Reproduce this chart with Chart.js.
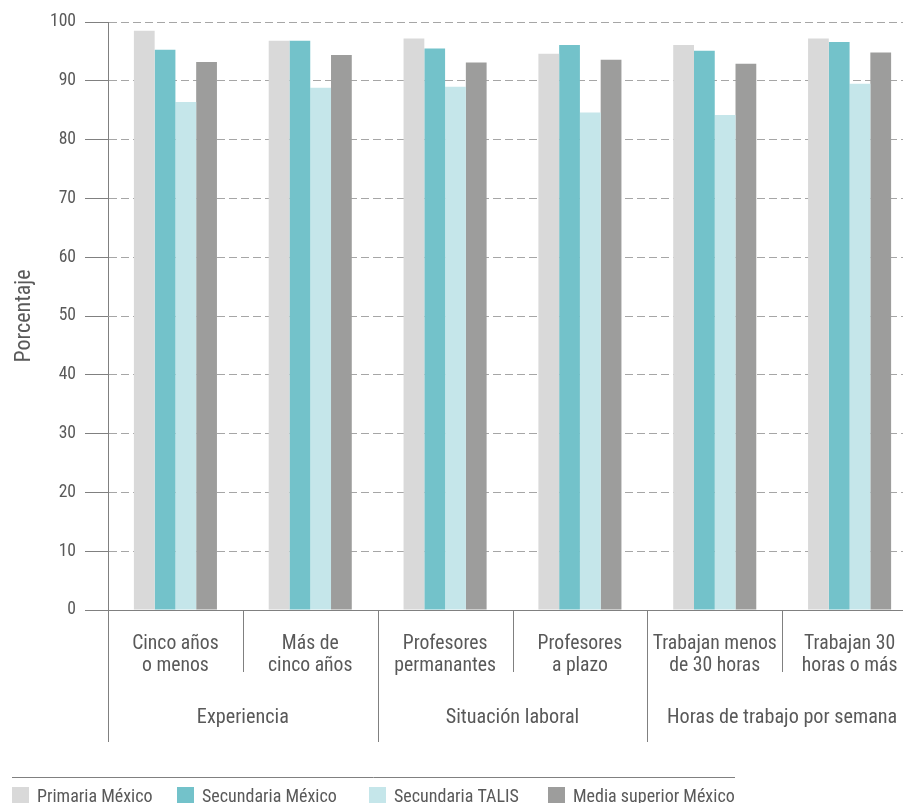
<!DOCTYPE html>
<html>
<head>
<meta charset="utf-8">
<script src="https://cdn.jsdelivr.net/npm/chart.js@4.4.1/dist/chart.umd.min.js"></script>
<style>
  html, body { margin: 0; padding: 0; background: #fff; overflow: hidden; }
  #wrap { position: absolute; left: 0; top: 0; width: 917px; height: 803px; }
</style>
</head>
<body>
<div id="wrap"><canvas id="teachers"></canvas></div>
<script>
// categories and groups
var categories = [
  ['Cinco años', 'o menos'],
  ['Más de', 'cinco años'],
  ['Profesores', 'permanantes'],
  ['Profesores', 'a plazo'],
  ['Trabajan menos', 'de 30 horas'],
  ['Trabajan 30', 'horas o más']
]
var groups = ['Experiencia', 'Situación laboral', 'Horas de trabajo por semana']
var groupSizes = [2, 2, 2]

// series (percent)
var primariaMexico = [98.5, 96.8, 97.2, 94.6, 96.1, 97.2]
var secundariaMexico = [95.3, 96.8, 95.5, 96.1, 95.1, 96.6]
var secundariaTalis = [86.4, 88.8, 89.0, 84.6, 84.2, 89.5]
var mediaSuperior = [93.2, 94.4, 93.1, 93.6, 92.9, 94.8]

var yTicks = [0, 10, 20, 30, 40, 50, 60, 70, 80, 90, 100]

var TEXT = '#595959'
var LINE = '#808080'
var legendX = [12, 177, 369, 548]

// pick a narrow face if one is installed, size it to the reference text widths
var probe = document.createElement('canvas').getContext('2d')
function hasFont(name) {
  var s = 'mmmmmmmmmmlli WwÁñ 0123'
  var r = false
  ;['monospace', 'serif'].forEach(function (fb) {
    probe.font = '40px ' + fb
    var a = probe.measureText(s).width
    probe.font = "40px '" + name + "', " + fb
    if (probe.measureText(s).width !== a) r = true
  })
  return r
}
var candidates = ['Liberation Sans Narrow', 'Arial Narrow', 'Roboto Condensed', 'Noto Sans Condensed',
  'Noto Sans SemiCondensed', 'DejaVu Sans Condensed', 'Liberation Sans']
var family = 'Liberation Sans'
for (var c = 0; c < candidates.length; c++) {
  if (hasFont(candidates[c])) { family = candidates[c]; break }
}
var FONT = "'" + family + "', Arial, sans-serif"
function fitSize(text, px) {
  probe.font = '100px ' + FONT
  return Math.round(100 * px / probe.measureText(text).width * 10) / 10
}
var catSize = fitSize('Trabajan menos', 124)
var groupSize = fitSize('Experiencia', 92)
var tickSize = fitSize('100', 26)
var legendSize = fitSize('Secundaria México', 135)
var titleSize = fitSize('Porcentaje', 93)

// separators, group labels and legend under the axis
var bottomDecor = {
  id: 'bottomDecor',
  afterDraw: function (chart) {
    var ctx = chart.ctx
    var x = chart.scales.x
    var base = chart.chartArea.bottom
    var half = (x.getPixelForValue(1) - x.getPixelForValue(0)) / 2
    ctx.save()
    ctx.strokeStyle = LINE
    ctx.lineWidth = 1
    // short lines between categories
    for (var i = 1; i < categories.length; i++) {
      var px = Math.round(x.getPixelForValue(i) - half) + 0.5
      ctx.beginPath()
      ctx.moveTo(px, base)
      ctx.lineTo(px, base + 62)
      ctx.stroke()
    }
    // long lines between groups + group titles
    var start = 0
    ctx.fillStyle = TEXT
    ctx.font = groupSize + 'px ' + FONT
    ctx.textAlign = 'center'
    ctx.textBaseline = 'middle'
    for (var g = 0; g < groups.length; g++) {
      var left = x.getPixelForValue(start) - half
      var right = x.getPixelForValue(start + groupSizes[g] - 1) + half
      var lx = Math.round(left) + 0.5
      ctx.beginPath()
      ctx.moveTo(lx, base)
      ctx.lineTo(lx, base + 132)
      ctx.stroke()
      ctx.fillText(groups[g], (left + right) / 2, base + 108)
      start += groupSizes[g]
    }
    // legend
    ctx.beginPath()
    ctx.moveTo(12, 777.5)
    ctx.lineTo(735, 777.5)
    ctx.stroke()
    ctx.textAlign = 'left'
    ctx.font = legendSize + 'px ' + FONT
    chart.data.datasets.forEach(function (ds, k) {
      ctx.fillStyle = ds.backgroundColor
      ctx.fillRect(legendX[k], 787, 17, 17)
      ctx.fillStyle = TEXT
      ctx.fillText(ds.label, legendX[k] + 25, 797)
    })
    ctx.restore()
  }
}

var ctx = document.getElementById('teachers')
new Chart(ctx, {
  type: 'bar',
  data: {
    labels: categories,
    datasets: [
      { label: 'Primaria México', data: primariaMexico, backgroundColor: '#d9d9d9' },
      { label: 'Secundaria México', data: secundariaMexico, backgroundColor: '#73c2ca' },
      { label: 'Secundaria TALIS', data: secundariaTalis, backgroundColor: '#c5e6ea' },
      { label: 'Media superior México', data: mediaSuperior, backgroundColor: '#9d9d9c' }
    ]
  },
  options: {
    responsive: true,
    maintainAspectRatio: false,
    animation: false,
    categoryPercentage: 0.616,
    barPercentage: 1.0,
    layout: { padding: { top: 22, left: 0, right: 0, bottom: 0 } },
    plugins: {
      legend: { display: false },
      tooltip: { enabled: false }
    },
    scales: {
      x: {
        grid: { display: false, drawTicks: false },
        border: { display: true, color: LINE, width: 1 },
        ticks: {
          color: TEXT,
          padding: 23,
          maxRotation: 0,
          autoSkip: false,
          font: { family: FONT, size: catSize, lineHeight: 22 / catSize }
        },
        afterFit: function (scale) {
          scale.height = 193
          scale.paddingLeft = 0
          scale.paddingRight = 0
        }
      },
      y: {
        min: 0,
        max: 100,
        afterBuildTicks: function (scale) {
          scale.ticks = yTicks.map(function (v) { return { value: v } })
        },
        grid: {
          color: '#a6a6a6',
          tickBorderDash: [],
          tickColor: LINE,
          tickLength: 23,
          drawTicks: true
        },
        border: { display: true, color: LINE, width: 1, dash: [8, 4] },
        ticks: {
          color: TEXT,
          padding: 9,
          font: { family: FONT, size: tickSize }
        },
        title: {
          display: true,
          text: 'Porcentaje',
          color: TEXT,
          padding: { top: 11, bottom: 0 },
          font: { family: FONT, size: titleSize }
        },
        afterFit: function (scale) {
          scale.width = 108
          scale.paddingTop = 0
          scale.paddingBottom = 0
        }
      }
    }
  },
  plugins: [bottomDecor]
})
</script>
</body>
</html>
